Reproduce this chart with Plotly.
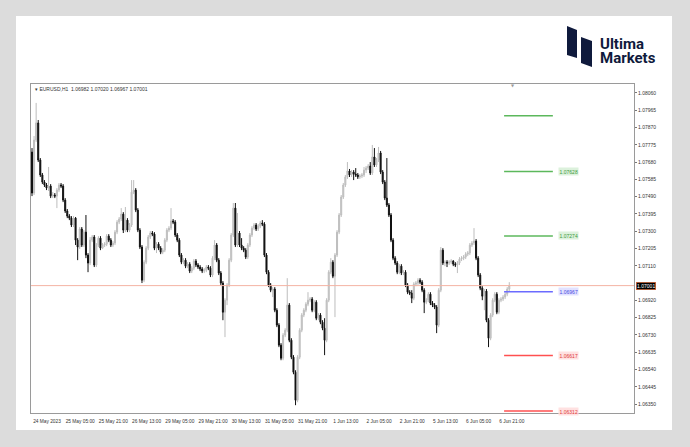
import plotly.graph_objects as go

# ---------------- data ----------------
symbol_header = "\u25be EURUSD,H1  1.06982 1.07020 1.06967 1.07001"

first_open = 1.07735
close = [
    1.07510, 1.07801, 1.07895, 1.07691, 1.07609, 1.07570, 1.07554, 1.07537, 1.07548, 1.07493,
    1.07499, 1.07493, 1.07526, 1.07554, 1.07548, 1.07471, 1.07411, 1.07383, 1.07372, 1.07334,
    1.07372, 1.07251, 1.07213, 1.07312, 1.07224, 1.07295, 1.07169, 1.07125, 1.07251, 1.07268,
    1.07114, 1.07224, 1.07262, 1.07207, 1.07224, 1.07229, 1.07273, 1.07251, 1.07224, 1.07235,
    1.07295, 1.07350, 1.07367, 1.07394, 1.07306, 1.07361, 1.07306, 1.07334, 1.07515, 1.07526,
    1.07416, 1.07306, 1.07213, 1.07031, 1.07130, 1.07207, 1.07268, 1.07290, 1.07284, 1.07207,
    1.07229, 1.07207, 1.07185, 1.07196, 1.07251, 1.07306, 1.07317, 1.07356, 1.07350, 1.07279,
    1.07251, 1.07169, 1.07130, 1.07141, 1.07108, 1.07119, 1.07081, 1.07097, 1.07136, 1.07114,
    1.07103, 1.07092, 1.07081, 1.07086, 1.07103, 1.07097, 1.07059, 1.07152, 1.07224, 1.07141,
    1.07070, 1.07015, 1.06855, 1.06921, 1.07004, 1.07141, 1.07279, 1.07427, 1.07224, 1.07290,
    1.07224, 1.07207, 1.07196, 1.07158, 1.07224, 1.07279, 1.07317, 1.07334, 1.07312, 1.07328,
    1.07345, 1.07339, 1.07169, 1.07075, 1.07004, 1.06976, 1.06982, 1.06866, 1.06784, 1.06674,
    1.06602, 1.06729, 1.06756, 1.06894, 1.06701, 1.06608, 1.06525, 1.06371, 1.06608, 1.06756,
    1.06839, 1.06866, 1.06899, 1.06921, 1.06927, 1.06866, 1.06910, 1.06822, 1.06839, 1.06800,
    1.06767, 1.06701, 1.06921, 1.07075, 1.07130, 1.07053, 1.07169, 1.07295, 1.07389, 1.07488,
    1.07554, 1.07598, 1.07631, 1.07609, 1.07625, 1.07614, 1.07609, 1.07598, 1.07603, 1.07609,
    1.07636, 1.07647, 1.07658, 1.07620, 1.07708, 1.07664, 1.07691, 1.07730, 1.07625, 1.07570,
    1.07482, 1.07444, 1.07389, 1.07251, 1.07152, 1.07125, 1.07075, 1.07108, 1.07070, 1.07075,
    1.07004, 1.06965, 1.06960, 1.06932, 1.07009, 1.07015, 1.07031, 1.07020, 1.06976, 1.06910,
    1.06921, 1.06954, 1.06905, 1.06894, 1.06883, 1.06784, 1.06976, 1.07196, 1.07125, 1.07130,
    1.07125, 1.07130, 1.07136, 1.07119, 1.07114, 1.07125, 1.07147, 1.07152, 1.07158, 1.07174,
    1.07180, 1.07224, 1.07235, 1.07246, 1.07152, 1.07059, 1.06987, 1.06943, 1.06971, 1.06811,
    1.06712, 1.06839, 1.06921, 1.06954, 1.06855, 1.06921, 1.06927, 1.06938, 1.06954, 1.06982,
    1.07001,
]
high = [
    1.07757, 1.07823, 1.08005, 1.07911, 1.07702, 1.07620, 1.07581, 1.07565, 1.07653, 1.07559,
    1.07515, 1.07510, 1.07537, 1.07565, 1.07565, 1.07559, 1.07482, 1.07422, 1.07394, 1.07383,
    1.07383, 1.07378, 1.07262, 1.07323, 1.07323, 1.07306, 1.07389, 1.07180, 1.07268, 1.07279,
    1.07279, 1.07235, 1.07273, 1.07273, 1.07235, 1.07240, 1.07284, 1.07284, 1.07262, 1.07246,
    1.07306, 1.07361, 1.07378, 1.07427, 1.07405, 1.07433, 1.07372, 1.07345, 1.07581, 1.07581,
    1.07537, 1.07427, 1.07317, 1.07224, 1.07141, 1.07218, 1.07279, 1.07301, 1.07301, 1.07295,
    1.07240, 1.07240, 1.07218, 1.07207, 1.07262, 1.07317, 1.07328, 1.07427, 1.07367, 1.07361,
    1.07290, 1.07262, 1.07180, 1.07152, 1.07152, 1.07130, 1.07130, 1.07108, 1.07147, 1.07147,
    1.07125, 1.07114, 1.07103, 1.07097, 1.07114, 1.07114, 1.07108, 1.07163, 1.07251, 1.07235,
    1.07152, 1.07081, 1.07026, 1.06932, 1.07015, 1.07152, 1.07290, 1.07455, 1.07455, 1.07400,
    1.07301, 1.07262, 1.07218, 1.07207, 1.07235, 1.07290, 1.07328, 1.07345, 1.07345, 1.07339,
    1.07356, 1.07361, 1.07350, 1.07180, 1.07086, 1.07015, 1.06993, 1.06993, 1.06877, 1.06795,
    1.06685, 1.06740, 1.06767, 1.07042, 1.06905, 1.06712, 1.06619, 1.06536, 1.06619, 1.06767,
    1.06850, 1.06877, 1.06910, 1.06965, 1.06938, 1.06938, 1.06921, 1.06921, 1.06850, 1.06850,
    1.06811, 1.06822, 1.06932, 1.07086, 1.07152, 1.07141, 1.07180, 1.07306, 1.07400, 1.07499,
    1.07565, 1.07609, 1.07680, 1.07642, 1.07636, 1.07636, 1.07647, 1.07620, 1.07614, 1.07620,
    1.07653, 1.07658, 1.07669, 1.07680, 1.07774, 1.07757, 1.07702, 1.07763, 1.07741, 1.07636,
    1.07581, 1.07702, 1.07455, 1.07400, 1.07262, 1.07163, 1.07136, 1.07119, 1.07119, 1.07086,
    1.07086, 1.07015, 1.06976, 1.06976, 1.07020, 1.07026, 1.07042, 1.07042, 1.07031, 1.06987,
    1.06932, 1.06965, 1.06965, 1.06916, 1.06905, 1.06894, 1.06987, 1.07213, 1.07207, 1.07141,
    1.07141, 1.07141, 1.07147, 1.07141, 1.07130, 1.07136, 1.07158, 1.07163, 1.07169, 1.07185,
    1.07191, 1.07235, 1.07246, 1.07317, 1.07257, 1.07163, 1.07070, 1.06998, 1.06982, 1.06982,
    1.06822, 1.06850, 1.06932, 1.06965, 1.06965, 1.06932, 1.06938, 1.06949, 1.06965, 1.06993,
    1.07020,
]
low = [
    1.07493, 1.07499, 1.07790, 1.07680, 1.07598, 1.07559, 1.07543, 1.07526, 1.07521, 1.07482,
    1.07482, 1.07482, 1.07427, 1.07515, 1.07537, 1.07460, 1.07400, 1.07372, 1.07361, 1.07323,
    1.07323, 1.07224, 1.07141, 1.07202, 1.07213, 1.07213, 1.07152, 1.07075, 1.07114, 1.07240,
    1.07103, 1.07103, 1.07213, 1.07196, 1.07202, 1.07213, 1.07218, 1.07240, 1.07213, 1.07213,
    1.07224, 1.07284, 1.07339, 1.07356, 1.07290, 1.07295, 1.07295, 1.07295, 1.07323, 1.07504,
    1.07405, 1.07295, 1.07202, 1.07015, 1.07020, 1.07119, 1.07196, 1.07257, 1.07273, 1.07196,
    1.07180, 1.07196, 1.07174, 1.07174, 1.07185, 1.07240, 1.07295, 1.07306, 1.07339, 1.07268,
    1.07240, 1.07158, 1.07119, 1.07119, 1.07097, 1.07097, 1.07070, 1.07070, 1.07086, 1.07103,
    1.07092, 1.07081, 1.07070, 1.07070, 1.07075, 1.07086, 1.07048, 1.07048, 1.07141, 1.07130,
    1.07059, 1.07004, 1.06811, 1.06718, 1.06894, 1.06993, 1.07130, 1.07268, 1.07213, 1.07213,
    1.07213, 1.07196, 1.07185, 1.07147, 1.07147, 1.07213, 1.07268, 1.07306, 1.07301, 1.07301,
    1.07317, 1.07328, 1.07158, 1.07064, 1.06993, 1.06965, 1.06938, 1.06855, 1.06773, 1.06663,
    1.06591, 1.06591, 1.06718, 1.06745, 1.06690, 1.06597, 1.06514, 1.06344, 1.06360, 1.06597,
    1.06745, 1.06828, 1.06855, 1.06888, 1.06910, 1.06855, 1.06855, 1.06811, 1.06811, 1.06789,
    1.06756, 1.06619, 1.06690, 1.06910, 1.07064, 1.07042, 1.06828, 1.07158, 1.07284, 1.07378,
    1.07477, 1.07543, 1.07587, 1.07598, 1.07598, 1.07581, 1.07598, 1.07587, 1.07587, 1.07592,
    1.07598, 1.07620, 1.07636, 1.07609, 1.07609, 1.07653, 1.07653, 1.07680, 1.07614, 1.07559,
    1.07471, 1.07433, 1.07378, 1.07240, 1.07141, 1.07114, 1.07064, 1.07064, 1.07059, 1.07059,
    1.06993, 1.06954, 1.06949, 1.06905, 1.06921, 1.06998, 1.07004, 1.07009, 1.06965, 1.06850,
    1.06899, 1.06910, 1.06894, 1.06883, 1.06872, 1.06740, 1.06773, 1.06965, 1.07114, 1.07108,
    1.07103, 1.07114, 1.07119, 1.07108, 1.07103, 1.07070, 1.07114, 1.07136, 1.07141, 1.07147,
    1.07163, 1.07169, 1.07213, 1.07224, 1.07141, 1.07048, 1.06976, 1.06921, 1.06866, 1.06800,
    1.06663, 1.06701, 1.06828, 1.06910, 1.06844, 1.06844, 1.06910, 1.06916, 1.06927, 1.06943,
    1.06967,
]
open_ = [first_open] + close[:-1]
bar_index = list(range(len(close)))

y_tick_values = [1.06350, 1.06445, 1.06540, 1.06635, 1.06730, 1.06825, 1.06920,
                 1.07110, 1.07205, 1.07300, 1.07395, 1.07490, 1.07585, 1.07680,
                 1.07775, 1.07870, 1.07965, 1.08060]
x_tick_bars = [0, 16, 32, 48, 64, 80, 96, 112, 128, 144, 160, 176, 192, 208, 224]
x_tick_labels = ["24 May 2023", "25 May 05:00", "25 May 21:00", "26 May 13:00",
                 "29 May 05:00", "29 May 21:00", "30 May 13:00", "31 May 05:00",
                 "31 May 21:00", "1 Jun 13:00", "2 Jun 05:00", "2 Jun 21:00",
                 "5 Jun 13:00", "6 Jun 05:00", "6 Jun 21:00"]

level_values = [1.07935, 1.07628, 1.07274, 1.06967, 1.06617, 1.06312]
level_colors = ["#5cb85c", "#5cb85c", "#5cb85c", "#6b6bff", "#ff5050", "#ff5050"]
level_text_colors = ["#3d9a3d", "#3d9a3d", "#3d9a3d", "#4a4ae0", "#e03a3a", "#e03a3a"]
level_bg_colors = ["#dcf1dc", "#dcf1dc", "#dcf1dc", "#e1e1ff", "#ffe1e1", "#ffe1e1"]
level_show_label = [False, True, True, True, True, True]

# ---------------- layout geometry ----------------
W, H = 690, 447
PL, PR, PT, PB = 31, 634, 84, 413
X_RANGE = [-0.48, 290.1]
Y_RANGE = [1.06301, 1.08109]
LEVEL_X0, LEVEL_X1, LEVEL_LABEL_X = 227.5, 251.0, 253.3


def px(xp):
    return (xp - PL) / (PR - PL)


def py(yp):
    return (PB - yp) / (PB - PT)


FONT = "Liberation Sans, Arial, sans-serif"

fig = go.Figure()

fig.add_trace(go.Candlestick(
    x=bar_index, open=open_, high=high, low=low, close=close,
    increasing=dict(line=dict(color="#bdbdbd", width=1), fillcolor="#d4d4d4"),
    decreasing=dict(line=dict(color="#111111", width=1), fillcolor="#111111"),
    whiskerwidth=0, hoverinfo="skip", showlegend=False,
))

for v, c in zip(level_values, level_colors):
    fig.add_trace(go.Scatter(x=[LEVEL_X0, LEVEL_X1], y=[v, v], mode="lines",
                             line=dict(color=c, width=1.5), hoverinfo="skip",
                             showlegend=False))

shapes = [
    # white card
    dict(type="rect", xref="paper", yref="paper", x0=px(16), x1=px(672), y0=py(430), y1=py(16),
         fillcolor="white", line=dict(width=0), layer="below"),
    # current price line
    dict(type="line", xref="paper", yref="y", x0=0, x1=1, y0=close[-1], y1=close[-1],
         line=dict(color="#f4b3a3", width=1), layer="above"),
    # logo icon
    dict(type="path", xref="paper", yref="paper", fillcolor="#0f1a3c", line=dict(width=0),
         path=f"M {px(567)},{py(26)} L {px(577)},{py(30)} L {px(577)},{py(58)} L {px(567)},{py(55)} Z"),
    dict(type="path", xref="paper", yref="paper", fillcolor="#0f1a3c", line=dict(width=0),
         path=f"M {px(581)},{py(37)} L {px(592)},{py(41)} L {px(592)},{py(67)} L {px(581)},{py(63)} Z"),
]

annotations = [
    dict(xref="paper", yref="paper", x=px(33), y=py(89), text=symbol_header, showarrow=False,
         xanchor="left", yanchor="middle", font=dict(family=FONT, size=5, color="#333333")),
    dict(xref="paper", yref="paper", x=px(599), y=py(44.5), text="<b>Ultima</b>", showarrow=False,
         xanchor="left", yanchor="middle", height=12.5, valign="middle", borderpad=0,
         font=dict(family="Roboto, Arial", size=15, color="#0f1a3c")),
    dict(xref="paper", yref="paper", x=px(599), y=py(58.5), text="<b>Markets</b>", showarrow=False,
         xanchor="left", yanchor="middle", height=12.5, valign="middle", borderpad=0,
         font=dict(family="Roboto, Arial", size=15, color="#0f1a3c")),
    dict(xref="paper", yref="paper", x=px(513), y=py(86), text="\u25bc", showarrow=False,
         xanchor="center", yanchor="middle", font=dict(family="DejaVu Sans", size=4, color="#9a9a9a")),
    dict(xref="paper", yref="y", x=px(636), y=close[-1], text=f"{close[-1]:.5f}", showarrow=False,
         xanchor="left", yanchor="middle", bgcolor="#000000", bordercolor="#e8642c", borderwidth=0.6,
         borderpad=0.5, font=dict(family=FONT, size=5, color="white")),
]
for v, tc, bg, show in zip(level_values, level_text_colors, level_bg_colors, level_show_label):
    if show:
        annotations.append(dict(x=LEVEL_LABEL_X, y=v, xref="x", yref="y", text=f"{v:.5f}",
                                showarrow=False, xanchor="left", yanchor="middle",
                                bgcolor=bg, borderpad=0.6,
                                font=dict(family=FONT, size=5, color=tc)))

fig.update_layout(
    width=W, height=H,
    margin=dict(l=PL, r=W - PR, t=PT, b=H - PB, pad=0),
    paper_bgcolor="#dcdcdc", plot_bgcolor="white",
    showlegend=False, hovermode=False,
    shapes=shapes, annotations=annotations,
    xaxis=dict(range=X_RANGE, rangeslider=dict(visible=False), showgrid=False, zeroline=False,
               showline=True, mirror=True, linecolor="#9a9a9a", linewidth=1,
               tickvals=x_tick_bars, ticktext=x_tick_labels, ticks="", ticklen=0,
               ticklabelshift=15, ticklabelstandoff=3, tickangle=0,
               tickfont=dict(family=FONT, size=4.8, color="#333333")),
    yaxis=dict(range=Y_RANGE, side="right", showgrid=False, zeroline=False,
               showline=True, mirror=True, linecolor="#9a9a9a", linewidth=1,
               tickvals=y_tick_values, ticktext=[f"{v:.5f}" for v in y_tick_values],
               ticks="outside", ticklen=2, tickcolor="#777777",
               tickfont=dict(family=FONT, size=5, color="#333333")),
)

page_js = ("document.body.style.margin='0';document.body.style.padding='0';"
           "document.body.style.overflow='hidden';document.body.style.background='#dcdcdc';")
fig.write_html("out.html", post_script=page_js, config={"displayModeBar": False})
